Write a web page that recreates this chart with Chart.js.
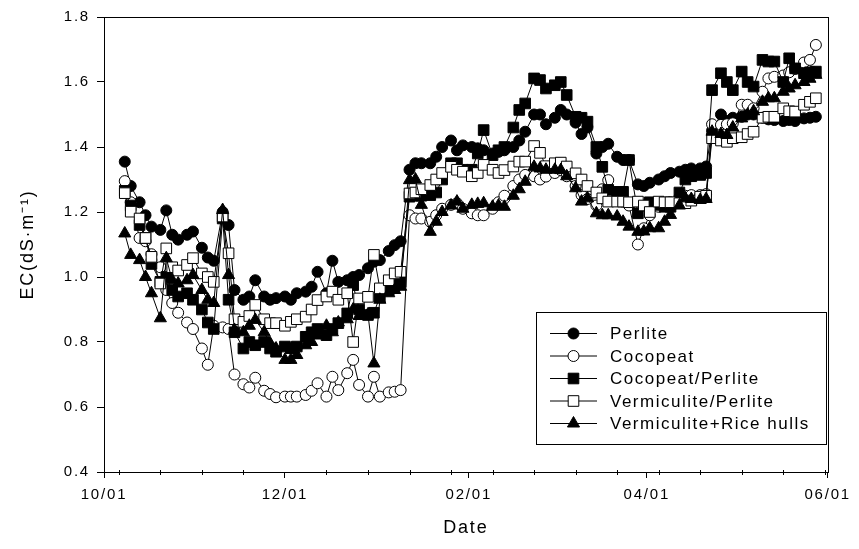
<!DOCTYPE html>
<html><head><meta charset="utf-8">
<script src="https://cdn.jsdelivr.net/npm/chart.js"></script>
<style>html,body{margin:0;padding:0;background:#fff;}canvas{display:block;}</style>
</head><body>
<canvas id="c" width="859" height="549"></canvas>
<script>
// Days after 10/01 (2007-10-01)
const days = [7,9,12,14,16,19,21,23,25,28,30,33,35,37,40,42,44,47,49,51,54,56,58,61,63,65,68,70,72,75,77,79,82,84,86,89,91,93,96,98,100,103,105,107,110,112,114,117,119,121,124,126,128,131,133,135,138,140,142,145,147,149,152,154,156,159,161,163,166,168,170,173,175,177,180,182,184,187,189,191,194,196,198,201,203,205,208,210,212,215,217,219,222,224,226,229,231,233,236,238,240];

const perlite = [1.355,1.28,1.23,1.19,1.155,1.145,1.205,1.13,1.115,1.13,1.14,1.09,1.06,1.05,1.20,1.16,0.96,0.93,0.94,0.99,0.94,0.93,0.935,0.94,0.93,0.95,0.955,0.97,1.016,0.95,1.05,0.985,0.99,1.0,1.006,1.027,1.047,1.052,1.08,1.098,1.11,1.33,1.35,1.35,1.35,1.37,1.40,1.42,1.39,1.405,1.40,1.396,1.39,1.38,1.385,1.39,1.40,1.42,1.447,1.50,1.50,1.47,1.49,1.514,1.50,1.475,1.44,1.46,1.38,1.40,1.41,1.37,1.36,1.36,1.285,1.28,1.29,1.30,1.31,1.32,1.324,1.33,1.334,1.334,1.34,1.45,1.50,1.48,1.49,1.493,1.50,1.50,1.49,1.485,1.483,1.48,1.483,1.48,1.488,1.49,1.493];

const cocopeat = [1.295,1.23,1.12,1.11,1.07,1.03,0.96,0.92,0.89,0.86,0.84,0.78,0.73,0.85,0.845,0.84,0.70,0.67,0.66,0.69,0.65,0.64,0.63,0.632,0.632,0.632,0.637,0.65,0.673,0.632,0.693,0.652,0.704,0.745,0.668,0.632,0.693,0.632,0.645,0.647,0.652,1.19,1.18,1.18,1.17,1.19,1.21,1.222,1.227,1.21,1.196,1.19,1.19,1.21,1.23,1.25,1.28,1.30,1.314,1.31,1.30,1.309,1.32,1.329,1.31,1.28,1.252,1.24,1.22,1.27,1.298,1.26,1.232,1.22,1.10,1.15,1.19,1.216,1.22,1.23,1.245,1.25,1.252,1.252,1.255,1.47,1.468,1.47,1.473,1.53,1.53,1.519,1.57,1.611,1.616,1.62,1.63,1.64,1.66,1.668,1.714];

const cocopeatPerlite = [1.265,1.22,1.16,1.12,1.04,0.985,1.0,0.96,0.94,0.95,0.93,0.90,0.86,0.84,1.18,0.93,0.83,0.78,0.80,0.79,0.80,0.78,0.77,0.786,0.781,0.786,0.816,0.83,0.84,0.821,0.84,0.858,0.888,0.975,0.90,0.883,0.89,0.939,0.96,0.975,0.985,1.247,1.25,1.25,1.252,1.26,1.30,1.35,1.35,1.33,1.33,1.38,1.452,1.375,1.39,1.40,1.46,1.514,1.534,1.611,1.606,1.58,1.59,1.60,1.56,1.493,1.49,1.478,1.40,1.339,1.268,1.262,1.262,1.36,1.196,1.22,1.23,1.222,1.216,1.216,1.26,1.30,1.31,1.314,1.32,1.575,1.627,1.60,1.575,1.632,1.60,1.586,1.668,1.663,1.663,1.60,1.673,1.642,1.627,1.63,1.632];

const vermiculitePerlite = [1.258,1.201,1.18,1.12,1.062,0.98,1.088,1.03,1.02,1.037,1.058,1.011,1.0,0.985,1.186,1.073,0.87,0.862,0.88,0.914,0.87,0.858,0.858,0.85,0.862,0.87,0.878,0.90,0.929,0.94,0.955,0.93,0.95,0.80,0.934,0.939,1.068,0.965,0.99,1.011,1.016,1.257,1.26,1.27,1.283,1.30,1.32,1.339,1.33,1.324,1.31,1.32,1.345,1.33,1.32,1.329,1.34,1.355,1.355,1.403,1.382,1.341,1.35,1.352,1.34,1.319,1.30,1.28,1.26,1.242,1.232,1.232,1.232,1.23,1.232,1.22,1.20,1.232,1.23,1.23,1.227,1.227,1.235,1.247,1.25,1.427,1.42,1.416,1.427,1.43,1.44,1.447,1.49,1.493,1.493,1.519,1.51,1.509,1.53,1.539,1.55];

const vermiculiteRice = [1.134,1.068,1.052,1.0,0.95,0.873,1.058,0.99,0.98,0.99,1.006,0.96,0.93,0.92,1.206,1.006,0.837,0.83,0.85,0.868,0.83,0.796,0.78,0.745,0.745,0.76,0.79,0.80,0.82,0.85,0.83,0.86,0.87,0.90,0.88,0.885,0.734,0.93,0.95,0.96,0.97,1.298,1.30,1.222,1.139,1.17,1.20,1.22,1.232,1.21,1.222,1.225,1.227,1.216,1.22,1.216,1.25,1.27,1.293,1.339,1.334,1.33,1.33,1.329,1.31,1.273,1.232,1.242,1.196,1.19,1.19,1.186,1.17,1.155,1.139,1.14,1.15,1.15,1.17,1.191,1.22,1.242,1.24,1.237,1.24,1.447,1.44,1.437,1.46,1.488,1.50,1.51,1.539,1.55,1.55,1.57,1.58,1.59,1.60,1.61,1.622];

const seriesNames = ['Perlite','Cocopeat','Cocopeat/Perlite','Vermiculite/Perlite','Vermiculite+Rice hulls'];
const seriesValues = [perlite, cocopeat, cocopeatPerlite, vermiculitePerlite, vermiculiteRice];

const majorTickDays = [0,61,123,183,244];
const majorTickLabels = ['10/01','12/01','02/01','04/01','06/01'];
const minorTickDays = [5,19,33,47,75,89,103,117,131,145,159,173,187,201,215,229,243];
const yTickValues = [0.4,0.6,0.8,1.0,1.2,1.4,1.6,1.8];

const FONT = '"Liberation Sans", Arial, sans-serif';
const SPACING = '1.8px';
Chart.defaults.font.family = FONT;
Chart.defaults.font.size = 15;
Chart.defaults.color = '#000';

const markerStyles = [
  {pointStyle:'circle',   radius:5.5, fill:'#000'},
  {pointStyle:'circle',   radius:5.5, fill:'#fff'},
  {pointStyle:'rect',     radius:7.5, fill:'#000'},
  {pointStyle:'rect',     radius:7.5, fill:'#fff'},
  {pointStyle:'triangle', radius:7,   fill:'#000'}
];

const datasets = seriesNames.map((name, i) => ({
  label: name,
  data: days.map((d, k) => ({x: d, y: seriesValues[i][k]})),
  borderColor: '#000',
  borderWidth: 1,
  pointStyle: markerStyles[i].pointStyle,
  pointRadius: markerStyles[i].radius,
  pointBackgroundColor: markerStyles[i].fill,
  pointBorderColor: '#000',
  pointBorderWidth: 1,
  tension: 0,
  fill: false,
  order: seriesNames.length - i
}));

const spacingPlugin = {
  id: 'spacing',
  beforeUpdate(c){ c.ctx.letterSpacing = SPACING; },
  beforeLayout(c){ c.ctx.letterSpacing = SPACING; },
  beforeDraw(c){ c.ctx.letterSpacing = SPACING; }
};

const framePlugin = {
  id: 'frame',
  beforeDatasetsDraw(c){
    const a = c.chartArea, ctx = c.ctx;
    ctx.save();
    ctx.strokeStyle = '#000'; ctx.lineWidth = 1;
    ctx.strokeRect(Math.round(a.left)+0.5, Math.round(a.top)+0.5, Math.round(a.right-a.left), Math.round(a.bottom-a.top));
    const xs = c.scales.x;
    ctx.beginPath();
    minorTickDays.forEach(d => {
      const px = Math.round(xs.getPixelForValue(d)) + 0.5;
      ctx.moveTo(px, a.bottom - 2);
      ctx.lineTo(px, a.bottom + 3);
    });
    ctx.stroke();
    ctx.restore();
  }
};

const legendPlugin = {
  id: 'boxLegend',
  afterDraw(c){
    const ctx = c.ctx;
    ctx.save();
    ctx.letterSpacing = '1.5px';
    ctx.fillStyle = '#fff';
    ctx.fillRect(536.5, 312.5, 290, 132);
    ctx.strokeStyle = '#000'; ctx.lineWidth = 1;
    ctx.strokeRect(536.5, 312.5, 290, 132);
    ctx.font = '17px ' + FONT;
    ctx.textBaseline = 'middle';
    ctx.textAlign = 'left';
    c.data.datasets.forEach((ds, i) => {
      const y = 333.5 + i * 22.5;
      ctx.strokeStyle = '#000'; ctx.lineWidth = 1;
      ctx.beginPath(); ctx.moveTo(550, y); ctx.lineTo(597, y); ctx.stroke();
      ctx.fillStyle = ds.pointBackgroundColor;
      Chart.helpers.drawPoint(ctx, {pointStyle: ds.pointStyle, radius: ds.pointRadius, rotation: 0, borderWidth: 1}, 573.5, y);
      ctx.fillStyle = '#000';
      ctx.fillText(ds.label, 610, y + 1);
    });
    ctx.restore();
  }
};

new Chart(document.getElementById('c'), {
  type: 'line',
  data: { datasets },
  plugins: [spacingPlugin, framePlugin, legendPlugin],
  options: {
    responsive: false,
    animation: false,
    devicePixelRatio: 1,
    layout: { padding: { left: 0, right: 24, top: 17, bottom: 0 } },
    plugins: { legend: { display: false }, tooltip: { enabled: false } },
    scales: {
      x: {
        type: 'linear', min: 0, max: 244, position: 'bottom',
        afterBuildTicks: s => { s.ticks = majorTickDays.map(v => ({value: v})); },
        afterFit: s => { s.height = 77; },
        ticks: {
          autoSkip: false, maxRotation: 0, padding: 8, color: '#000',
          font: { size: 15 },
          callback: v => majorTickLabels[majorTickDays.indexOf(v)]
        },
        grid: { drawOnChartArea: false, tickLength: 6, color: '#000', tickColor: '#000', tickWidth: 1 },
        border: { color: '#000', width: 1 },
        title: { display: true, text: 'Date', color: '#000', font: { size: 18 }, padding: { top: 0, bottom: 10 } }
      },
      y: {
        type: 'linear', min: 0.4, max: 1.8,
        afterBuildTicks: s => { s.ticks = yTickValues.map(v => ({value: v})); },
        afterFit: s => { s.width = 104; },
        ticks: { padding: 7, color: '#000', font: { size: 15 }, callback: v => Number(v).toFixed(1) },
        grid: { drawOnChartArea: false, tickLength: 7, color: '#000', tickColor: '#000', tickWidth: 1 },
        border: { color: '#000', width: 1 },
        title: { display: true, text: 'EC(dS·m⁻¹)', color: '#000', font: { size: 18 }, padding: { top: 17, bottom: 0 } }
      }
    }
  }
});
</script>
</body></html>
